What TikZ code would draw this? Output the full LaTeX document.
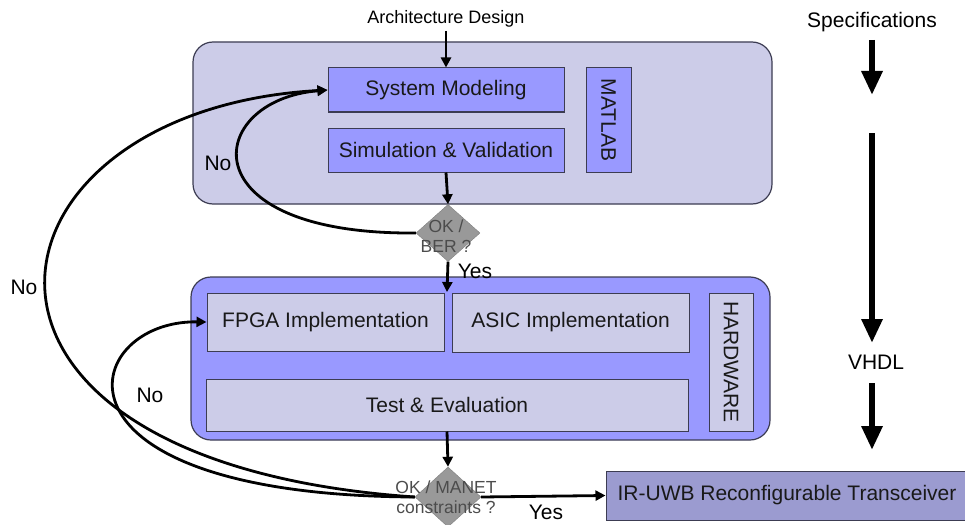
\documentclass[tikz,border=0pt]{standalone}
\usepackage{graphicx}
\usepackage{fontspec}
\setmainfont{Liberation Sans}
\usetikzlibrary{shapes.geometric,arrows.meta}
\definecolor{paleblue}{RGB}{204,204,232}
\definecolor{midblue}{RGB}{153,153,255}
\definecolor{dullblue}{RGB}{155,155,208}
\definecolor{edgegray}{RGB}{60,60,82}
\definecolor{diagray}{RGB}{153,153,153}
\begin{document}
\begin{tikzpicture}[x=1pt,y=-1pt,
    font=\fontsize{21}{25}\selectfont,
    group/.style={draw=edgegray,line width=1.2pt,rounded corners=20pt,inner sep=0pt},
    stage/.style={draw=edgegray,line width=1pt,inner sep=0pt,text=black!90},
    decide/.style={diamond,fill=diagray,draw=gray,inner sep=0pt},
    asks/.style={font=\fontsize{17.5}{20}\selectfont,text=black!70,align=center},
    flow/.style={line width=2.8pt,-{Triangle[width=10pt,length=10pt]}},
    bigflow/.style={line width=6pt,-{Triangle[width=20pt,length=24pt]}}]
  \useasboundingbox (0,0) rectangle (965,524);
  % containers
  \node[group,fill=paleblue,minimum width=579,minimum height=162] (model) at (482.5,123) {};
  \node[group,fill=midblue,minimum width=579,minimum height=163] (hw) at (480.5,358.5) {};
  % modeling stage
  \node[font=\fontsize{18}{22}\selectfont] (arch) at (446,19) {Architecture Design};
  \node[stage,fill=midblue,minimum width=236,minimum height=44] (sysmod) at (446,90) {System Modeling};
  \node[stage,fill=midblue,minimum width=236,minimum height=44] (simval) at (446,150) {Simulation \& Validation};
  \node[stage,fill=midblue,minimum width=45,minimum height=104] (matlab) at (608.5,120) {\rotatebox{-90}{MATLAB}};
  \node[decide,minimum width=64,minimum height=57] (ok1) at (448,233) {};
  \node[asks] (ok1txt) at (446,236) {OK /\\BER ?};
  % hardware stage
  \node[stage,fill=paleblue,minimum width=237,minimum height=58] (fpga) at (325.5,322) {FPGA Implementation};
  \node[stage,fill=paleblue,minimum width=237,minimum height=59] (asic) at (570.5,322.5) {ASIC Implementation};
  \node[stage,fill=paleblue,minimum width=482,minimum height=52] (test) at (447,405) {Test \& Evaluation};
  \node[stage,fill=paleblue,minimum width=44,minimum height=138] (hwlabel) at (731,362) {\rotatebox{-90}{HARDWARE}};
  \coordinate (hwin) at (447,292);
  \node[decide,minimum width=66,minimum height=60] (ok2) at (448,497) {};
  \node[asks] (ok2txt) at (446,497) {OK / MANET\\constraints ?};
  \node[stage,fill=dullblue,minimum width=362,minimum height=49] (iruwb) at (787,495.5) {IR-UWB Reconfigurable Transceiver};
  % labels
  \node (yes1) at (475,271) {Yes};
  \node (yes2) at (546,512) {Yes};
  \node (no1) at (218,163) {No};
  \node (no2) at (24,287) {No};
  \node (no3) at (150,395) {No};
  % design flow on the right
  \node (spec) at (872,22) {Specifications};
  \node (vhdl) at (876,362) {VHDL};
  \coordinate (s1) at (872,95);
  \coordinate (s2) at (872,133);
  \coordinate (s3) at (872,450);
  \begin{scope}[bigflow]
    \draw (872,40) -- (s1);
    \draw (s2) -- (872,343);
    \draw (872,383) -- (s3);
  \end{scope}
  % connectors
  \begin{scope}[flow]
    \draw (arch.south) -- (sysmod.north);
    \draw (simval.south) -- (ok1.north);
    \draw (ok1.south) -- (hwin);
    \draw (test.south) -- (ok2.north);
    \draw (ok2.east) -- (iruwb.west);
    \draw (ok1.west) .. controls (185,235) and (205,100) .. (sysmod.west);
    \draw (ok2.west) .. controls (-95,462) and (-30,110) .. (sysmod.west);
    \draw (ok2.west) .. controls (30,495) and (80,320) .. (fpga.west);
  \end{scope}
\end{tikzpicture}
\end{document}
